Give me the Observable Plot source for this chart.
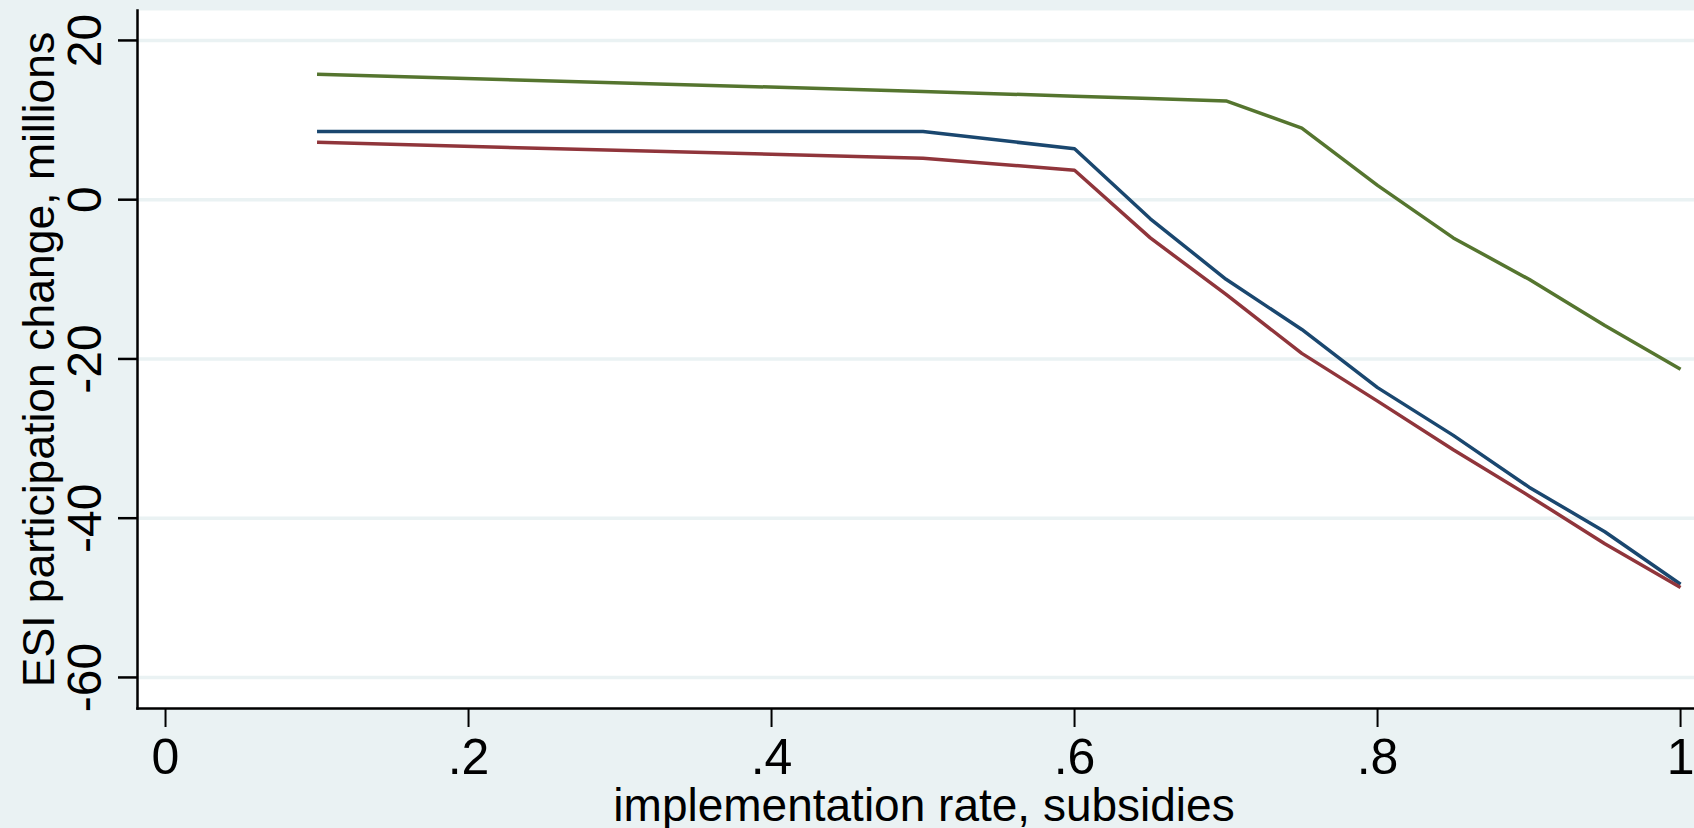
<!DOCTYPE html>
<html>
<head>
<meta charset="utf-8">
<script src="https://cdn.jsdelivr.net/npm/d3@7"></script>
<script src="https://cdn.jsdelivr.net/npm/@observablehq/plot@0.6"></script>
<style>
  html, body { margin: 0; padding: 0; background: #eaf2f3; }
  #chart { width: 1694px; height: 828px; overflow: hidden; }
</style>
</head>
<body>
<div id="chart"></div>
<script>
// implementation rate (x) values
const rates = [0.1, 0.5, 0.6, 0.65, 0.7, 0.75, 0.8, 0.85, 0.9, 0.95, 1.0];
// ESI participation change, millions
const seriesBlue  = [8.55, 8.55, 6.4, -2.4, -10.0, -16.3, -23.6, -29.6, -36.1, -41.7, -48.3];
const seriesRed   = [7.2, 5.2, 3.7, -4.8, -11.9, -19.3, -25.3, -31.4, -37.2, -43.2, -48.7];
const seriesGreen = [15.75, 13.6, 13.0, 12.7, 12.4, 9.0, 1.8, -4.8, -10.0, -15.8, -21.3];

const xTicks = [0, 0.2, 0.4, 0.6, 0.8, 1];
const yTicks = [-60, -40, -20, 0, 20];
const xTitle = "implementation rate, subsidies";
const yTitle = "ESI participation change, millions";

const seriesNames = ["blue", "red", "green"];
const seriesValues = [seriesBlue, seriesRed, seriesGreen];
const colors = {blue: "#1a476f", red: "#90353b", green: "#55752f"};

const rows = [];
seriesNames.forEach((s, i) => rates.forEach((r, j) => rows.push({series: s, rate: r, value: seriesValues[i][j]})));

const fmtX = d => d === 0 ? "0" : d === 1 ? "1" : String(d).replace(/^0/, "");
const font = "'Liberation Sans', Arial, Helvetica, sans-serif";

const chart = Plot.plot({
  width: 1694,
  height: 828,
  marginLeft: 137,
  marginRight: 0,
  marginTop: 10,
  marginBottom: 120,
  style: {background: "#eaf2f3", fontFamily: font, color: "#000"},
  x: {domain: [-0.0185, 1.0092], ticks: xTicks},
  y: {domain: [-63.9, 23.76], ticks: yTicks},
  marks: [
    Plot.frame({fill: "white", stroke: "none"}),
    Plot.gridY(yTicks, {stroke: "#eaf2f3", strokeOpacity: 1, strokeWidth: 3.5}),
    Plot.line(rows, {x: "rate", y: "value", z: "series", stroke: d => colors[d.series], strokeWidth: 3.5, strokeLinejoin: "miter", strokeLinecap: "butt"}),
    Plot.axisX(xTicks, {tickSize: 19, tickPadding: 11, fontSize: 50, tickFormat: fmtX, label: null, strokeWidth: 2, fill: "#000"}),
    Plot.axisY(yTicks, {tickSize: 19, tickFormat: () => "", label: null, strokeWidth: 2.5}),
    Plot.text(yTicks, {y: d => d, text: d => String(d), frameAnchor: "left", dx: -37, rotate: -90, lineAnchor: "bottom", textAnchor: "middle", fontSize: 48, fill: "#000"}),
    Plot.frame({anchor: "left", stroke: "#000", strokeWidth: 2.5}),
    Plot.frame({anchor: "bottom", stroke: "#000", strokeWidth: 2.5}),
    Plot.text([xTitle], {frameAnchor: "bottom", dy: 112, dx: 8, lineAnchor: "bottom", fontSize: 46, fill: "#000"}),
    Plot.text([yTitle], {frameAnchor: "left", dx: -84, rotate: -90, lineAnchor: "bottom", textAnchor: "middle", fontSize: 44.5, fill: "#000"})
  ]
});
document.getElementById("chart").appendChild(chart);
</script>
</body>
</html>
